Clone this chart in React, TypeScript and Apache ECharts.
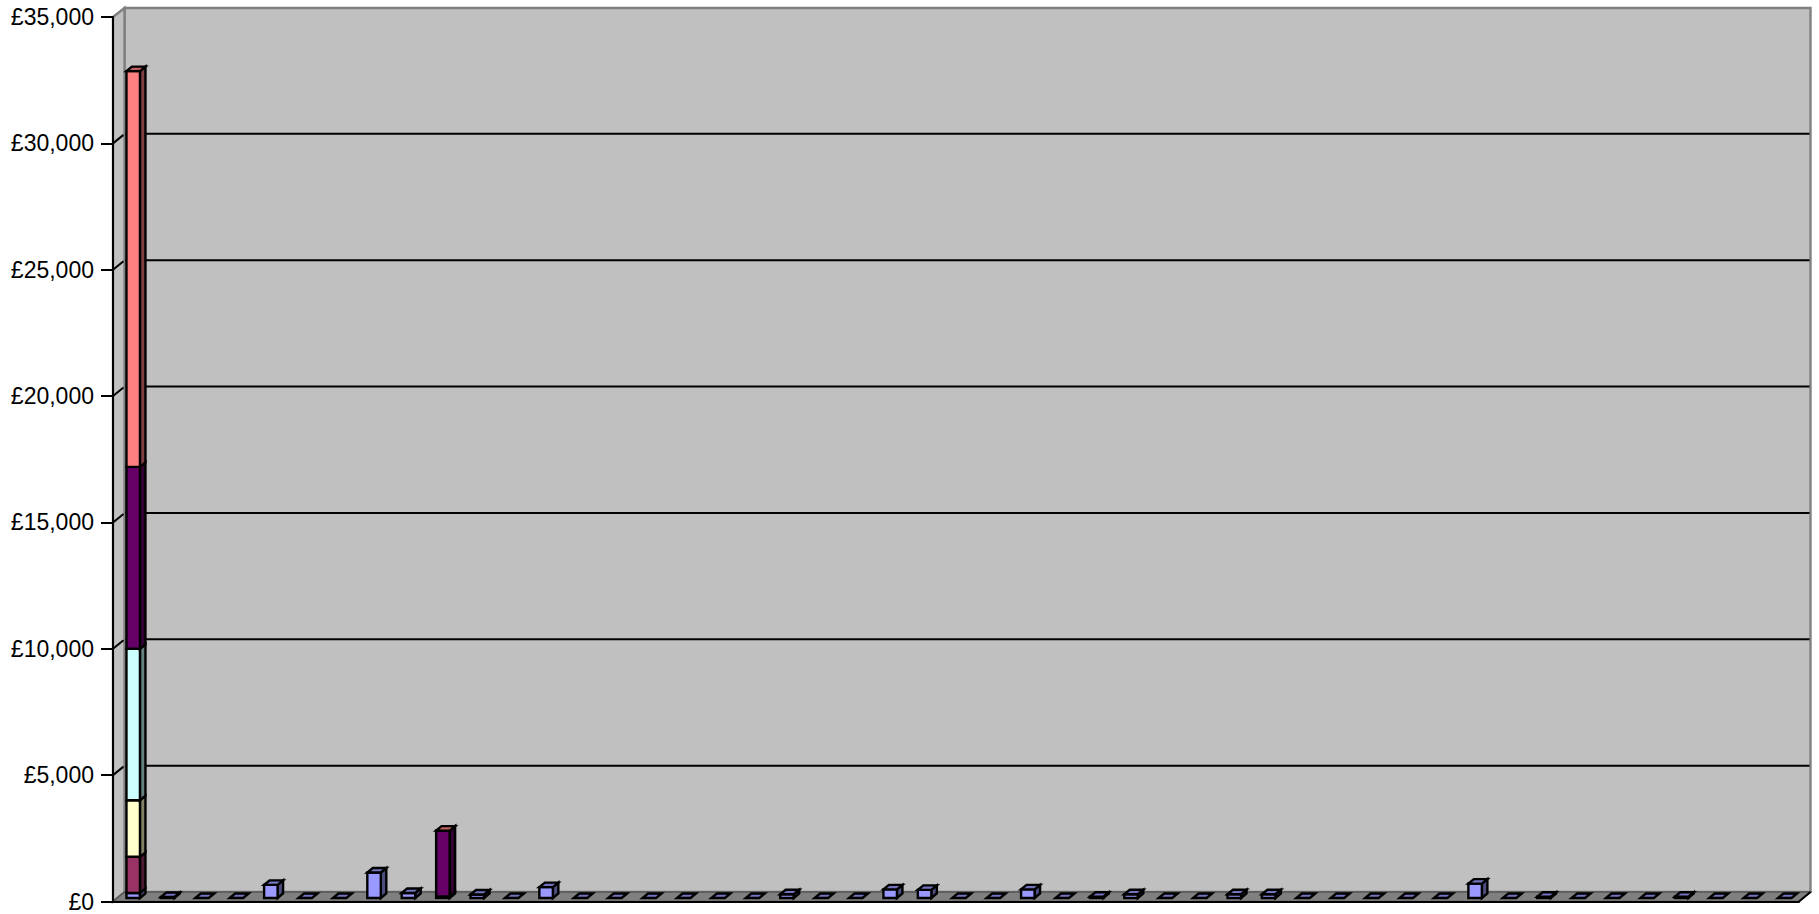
import React, { useEffect, useRef } from "react";
import * as echarts from "echarts";

// Spending per category, stacked bottom to top (pounds).
const categories = Array.from({ length: 49 }, (_, i) => String(i + 1));
const seriesBlue = [
  200, 40, 0, 0, 520, 0, 0, 1010, 200, 0, 140, 0, 430, 0, 0, 0, 0, 0, 0, 150, 0, 0, 340, 320, 0, 0, 340, 0, 50, 150,
  0, 0, 150, 150, 0, 0, 0, 0, 0, 570, 0, 50, 0, 0, 0, 50, 0, 0, 0,
];
const seriesMaroon = [1430];
const seriesCream = [2240, 0, 0, 0, 0, 0, 0, 0, 0, 60];
const seriesCyan = [5990];
const seriesPurple = [7200, 0, 0, 0, 0, 0, 0, 0, 0, 2600];
const seriesSalmon = [15660, 0, 0, 0, 0, 0, 0, 0, 0, 5];
const stackedSeries = [seriesBlue, seriesMaroon, seriesCream, seriesCyan, seriesPurple, seriesSalmon];
const stackColors = ["#9999FF", "#993366", "#FFFFCC", "#CCFFFF", "#660066", "#FF8080"];
const gridValues = [0, 5000, 10000, 15000, 20000, 25000, 30000, 35000];

const WALL_DX = 11.5;
const WALL_DY = -9.5;
const BAR_WIDTH = 13.5;
const BAR_SHIFT_X = 3;
const BAR_SHIFT_Y = -3.5;
const BAR_DX = 5.5;
const BAR_DY = -4.5;
const BAR_STROKE = 2.4;

// Scales a hex colour towards black for the shaded faces of a box.
function shade(hex: string, k: number) {
  const n = parseInt(hex.slice(1), 16);
  const c = [(n >> 16) & 255, (n >> 8) & 255, n & 255].map((v) => Math.round(v * k));
  return `rgb(${c[0]},${c[1]},${c[2]})`;
}

function poly(points: number[][], fill: string | null, stroke: string | null, lineWidth = BAR_STROKE) {
  return {
    type: "polygon",
    shape: { points },
    style: { fill: fill ?? "none", stroke: stroke ?? "none", lineWidth, lineJoin: "miter" },
  };
}

function segment(points: number[][], stroke: string, lineWidth: number) {
  return {
    type: "polyline",
    shape: { points },
    style: { fill: "none", stroke, lineWidth },
  };
}

// Side wall, back wall, floor and the gridlines that run across them.
function renderWalls(_params: any, api: any) {
  const band = api.size([1, 0])[0];
  const left = api.coord([0, 0])[0] - band / 2;
  const right = api.coord([categories.length - 1, 0])[0] + band / 2;
  const bottom = api.coord([0, 0])[1];
  const top = api.coord([0, 35000])[1];
  const wallGray = "#C0C0C0";
  const edge = "#808080";
  const children: any[] = [
    poly(
      [
        [left + WALL_DX, top + WALL_DY + 0.5],
        [right + WALL_DX, top + WALL_DY + 0.5],
        [right + WALL_DX, bottom + WALL_DY],
        [left + WALL_DX, bottom + WALL_DY],
      ],
      wallGray,
      edge,
      2.4,
    ),
    poly(
      [
        [left, top],
        [left + WALL_DX, top + WALL_DY + 0.5],
        [left + WALL_DX, bottom + WALL_DY],
        [left, bottom],
      ],
      wallGray,
      edge,
      2.4,
    ),
    poly(
      [
        [left, bottom],
        [left + WALL_DX, bottom + WALL_DY],
        [right + WALL_DX, bottom + WALL_DY],
        [right, bottom],
      ],
      "#808080",
      "#555555",
      1.5,
    ),
    segment(
      [
        [right, bottom],
        [right + WALL_DX, bottom + WALL_DY],
      ],
      "#000000",
      2,
    ),
  ];
  gridValues.forEach((v) => {
    if (v === 0 || v === 35000) return;
    const y = api.coord([0, v])[1];
    children.push(
      segment(
        [
          [left, y],
          [left + WALL_DX - 1, y + WALL_DY + 1],
        ],
        "#000000",
        2,
      ),
      segment(
        [
          [left + WALL_DX + 1, y + WALL_DY],
          [right + WALL_DX - 1, y + WALL_DY],
        ],
        "#000000",
        2,
      ),
    );
  });
  return { type: "group", children };
}

// One stacked box: a front, side and top face per stack segment.
function renderBar(params: any, api: any) {
  const idx = params.dataIndex;
  const center = api.coord([idx, 0])[0] + BAR_SHIFT_X;
  const x0 = center - BAR_WIDTH / 2;
  const x1 = center + BAR_WIDTH / 2;
  const children: any[] = [];
  let cum = 0;
  let topColor = stackColors[0];
  let yTop = api.coord([idx, 0])[1] + BAR_SHIFT_Y;
  stackedSeries.forEach((values, s) => {
    const v = values[idx] ?? 0;
    if (v <= 0) return;
    const yBottom = api.coord([idx, cum])[1] + BAR_SHIFT_Y;
    cum += v;
    yTop = api.coord([idx, cum])[1] + BAR_SHIFT_Y;
    topColor = stackColors[s];
    children.push(
      poly(
        [
          [x1, yBottom],
          [x1 + BAR_DX, yBottom + BAR_DY],
          [x1 + BAR_DX, yTop + BAR_DY],
          [x1, yTop],
        ],
        shade(stackColors[s], 0.5),
        "#000000",
      ),
      poly(
        [
          [x0, yBottom],
          [x1, yBottom],
          [x1, yTop],
          [x0, yTop],
        ],
        stackColors[s],
        "#000000",
      ),
    );
  });
  children.push(
    poly(
      [
        [x0, yTop],
        [x1, yTop],
        [x1 + BAR_DX, yTop + BAR_DY],
        [x0 + BAR_DX, yTop + BAR_DY],
      ],
      shade(topColor, 0.75),
      "#000000",
    ),
  );
  return { type: "group", children };
}

export default function App() {
  const ref = useRef<HTMLDivElement>(null);
  useEffect(() => {
    document.body.style.margin = "0";
    const chart = echarts.init(ref.current!, null, { renderer: "svg" });
    chart.setOption({
      animation: false,
      backgroundColor: "#FFFFFF",
      grid: { left: 113, top: 17, width: 1686, height: 884.5, containLabel: false },
      xAxis: {
        type: "category",
        data: categories,
        z: 6,
        axisLine: { show: true, lineStyle: { color: "#000000", width: 2 } },
        axisTick: { show: false },
        axisLabel: { show: false },
      },
      yAxis: {
        type: "value",
        min: 0,
        max: 35000,
        interval: 5000,
        z: 6,
        axisLine: { show: true, lineStyle: { color: "#000000", width: 2 } },
        axisTick: { show: true, length: 12, lineStyle: { color: "#000000", width: 2 } },
        splitLine: { show: false },
        axisLabel: {
          margin: 19,
          color: "#000000",
          fontFamily: "Liberation Sans",
          fontSize: 23,
          formatter: (v: number) => "£" + v.toLocaleString("en-GB"),
        },
      },
      series: [
        {
          type: "custom",
          z: 1,
          silent: true,
          clip: false,
          renderItem: renderWalls,
          data: [[0, 0]],
          encode: { x: 0, y: 1 },
        },
        {
          type: "custom",
          z: 4,
          silent: true,
          clip: false,
          renderItem: renderBar,
          data: categories.map((c) => [c, 0]),
          encode: { x: 0, y: 1 },
        },
      ],
    });
    return () => chart.dispose();
  }, []);
  return <div ref={ref} style={{ position: "fixed", left: 0, top: 0, width: 1819, height: 914 }} />;
}
